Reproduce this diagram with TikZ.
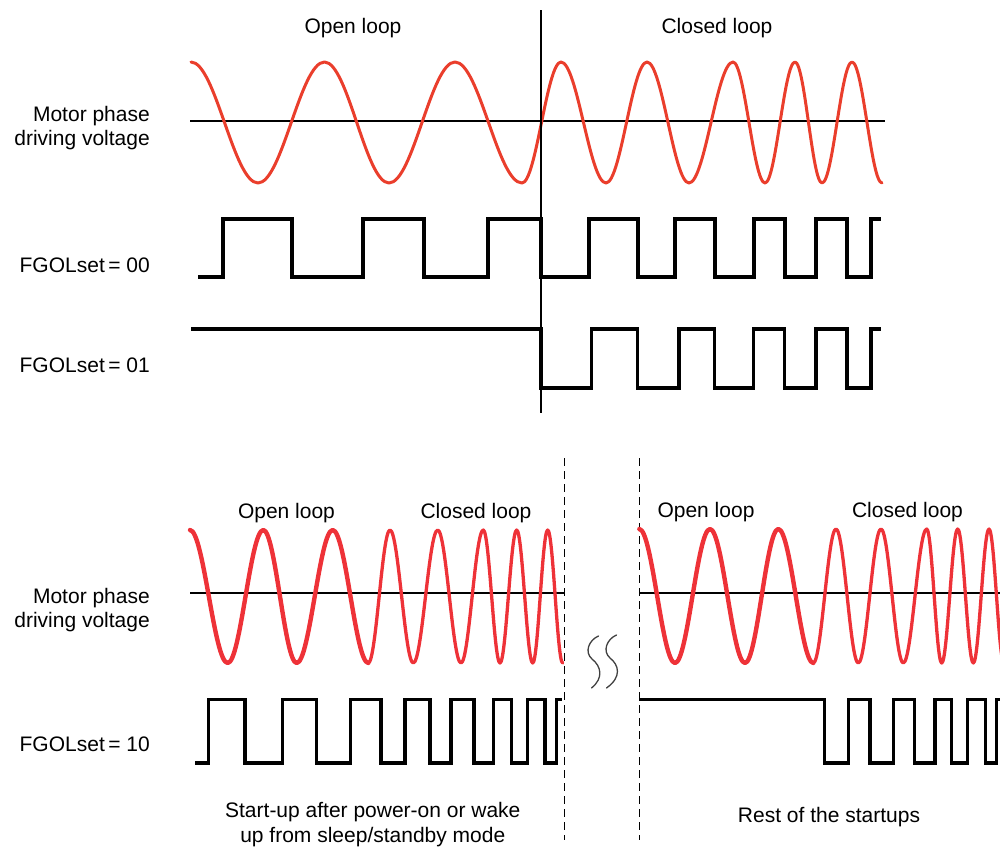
\documentclass[tikz,border=0pt]{standalone}
\usepackage{fontspec}
\setmainfont{Liberation Sans}
\definecolor{wavetop}{RGB}{234,62,44}
\definecolor{wavebot}{RGB}{238,50,56}
\tikzset{
  lbl/.style={font=\fontsize{21}{24.5}\selectfont, inner sep=0pt},
  axisline/.style={line width=2pt, black},
  sqwave/.style={line width=3.3pt, black, line cap=butt, line join=miter},
  redtop/.style={line width=3pt, wavetop, line join=round, line cap=round},
  redthick/.style={line width=4.4pt, wavebot, line join=round, line cap=round},
  redthin/.style={line width=3.3pt, wavebot, line join=round, line cap=round},
  divider/.style={line width=1.3pt, black, dash pattern=on 8pt off 5pt},
  squig/.style={line width=1.3pt, black!75, line cap=round}
}
\newcommand\halfcos{.. controls ({\px+0.3634*(\x-\px)},\py) and ({\x-0.3634*(\x-\px)},\y) .. (\x,\y)}
\begin{document}
\begin{tikzpicture}[x={(1pt,0)}, y={(0,-1pt)}]
\useasboundingbox (0,0) rectangle (1000,846);

% ===== Top section =====
\node[lbl] (tol) at (353,28.5) {Open loop};
\node[lbl] (tcl) at (717,28.5) {Closed loop};
\node[lbl, anchor=east, align=right] (tmp) at (150,128) {Motor phase\\driving voltage};
\node[lbl, anchor=east] (f00) at (150,265) {FGOLset\,= 00};
\node[lbl, anchor=east] (f01) at (150,365.5) {FGOLset\,= 01};

\coordinate (axA) at (190,121);
\coordinate (axB) at (885,121);
\draw[axisline] (axA) -- (axB);

\draw[redtop] (191,62)
  \foreach \x/\y [remember=\x as \px (initially 191), remember=\y as \py (initially 62)] in
  {258/183, 324.5/62, 389/183, 455/62, 522/183, 561/62, 606/183, 647/62, 689/183,
   733/62, 765/183, 795/62, 822/183, 852/62, 882/183} { \halfcos };

\coordinate (vT) at (541,10);
\coordinate (vB) at (541,413);
\draw[axisline] (vT) -- (vB);

\draw[sqwave] (198,277) -| (223,219) -| (292,277) -| (363,219) -| (424,277) -| (488,219)
  -| (541,277) -| (589,219) -| (638,277) -| (675,219) -| (715,277) -| (754,219)
  -| (785,277) -| (816,219) -| (847,277) -| (871,219) -- (881,219);

\draw[sqwave] (191,329) -| (541,388) -| (591.5,329) -| (637.6,388) -| (679,329)
  -| (714.6,388) -| (753.7,329) -| (784.6,388) -| (816,329) -| (847,388) -| (871,329) -- (881,329);

% ===== Bottom section =====
\node[lbl] (bol1) at (286.5,513) {Open loop};
\node[lbl] (bcl1) at (476,513) {Closed loop};
\node[lbl] (bol2) at (706,512.5) {Open loop};
\node[lbl] (bcl2) at (907.5,512.5) {Closed loop};
\node[lbl, anchor=east, align=right] (bmp) at (150,610) {Motor phase\\driving voltage};
\node[lbl, anchor=east] (f10) at (150,744) {FGOLset\,= 10};
\node[lbl, align=center] (txtA) at (372.8,824.5) {Start-up after power-on or wake\\up from sleep/standby mode};
\node[lbl] (txtB) at (829,817) {Rest of the startups};

\coordinate (d1T) at (564.5,458);
\coordinate (d1B) at (564.5,840);
\coordinate (d2T) at (639.3,458);
\coordinate (d2B) at (639.3,840);
\draw[divider] (d1T) -- (d1B);
\draw[divider] (d2T) -- (d2B);

\coordinate (ax1A) at (190,593);
\coordinate (ax1B) at (564.5,593);
\coordinate (ax2A) at (639.3,593);
\coordinate (ax2B) at (1000,593);
\draw[axisline] (ax1A) -- (ax1B);
\draw[axisline] (ax2A) -- (ax2B);

% left sine
\draw[redthick] (190,530)
  \foreach \x/\y [remember=\x as \px (initially 190), remember=\y as \py (initially 530)] in
  {227.7/663, 263.3/530, 296.7/663, 332.7/530, 368.3/663} { \halfcos };
\draw[redthin] (368.3,663)
  \foreach \x/\y [remember=\x as \px (initially 368.3), remember=\y as \py (initially 663)] in
  {390/530, 413.3/663, 437.7/530, 461/663, 483.3/530, 500/663, 516.7/530, 532.7/663,
   547.7/530, 562.7/663} { \halfcos };

% right sine
\begin{scope}
\clip (600,500) rectangle (1000,700);
\draw[redthick] (639.3,529)
  \foreach \x/\y [remember=\x as \px (initially 639.3), remember=\y as \py (initially 529)] in
  {675/663, 710/529, 745/663, 778.3/529, 813.3/663} { \halfcos };
\draw[redthin] (813.3,663)
  \foreach \x/\y [remember=\x as \px (initially 813.3), remember=\y as \py (initially 663)] in
  {836/529, 858.3/663, 881/529, 903.3/663, 926.7/529, 941.7/663, 957.7/529, 973.3/663,
   989/529, 1004/663} { \halfcos };
\end{scope}

% square waves
\draw[sqwave] (195,763) -| (208.3,699.3) -| (245,763) -| (282.7,699.3) -| (316.7,763)
  -| (350.7,699.3) -| (381,763) -| (405,699.3) -| (430,763) -| (451,699.3) -| (474,763)
  -| (493.3,699.3) -| (511.7,763) -| (527.7,699.3) -| (545,763) -| (556.7,699.3) -- (561.7,699.3);

\begin{scope}
\clip (600,680) rectangle (1000,780);
\draw[sqwave] (639.3,699.3) -| (824.3,763) -| (848.3,699.3) -| (870,763) -| (893.3,699.3)
  -| (914.3,763) -| (935,699.3) -| (951.7,763) -| (967.7,699.3) -| (985.7,763)
  -| (996.7,699.3) -- (1003,699.3);
\end{scope}

% break marks
\draw[squig] (598.5,636) .. controls (589,640) and (584,652) .. (592,659)
  .. controls (601,666) and (604,678) .. (591.5,688);
\draw[squig] (616.5,635) .. controls (607,639) and (602,651) .. (610,658)
  .. controls (619,665) and (622,677) .. (606.5,688);
\end{tikzpicture}
\end{document}
